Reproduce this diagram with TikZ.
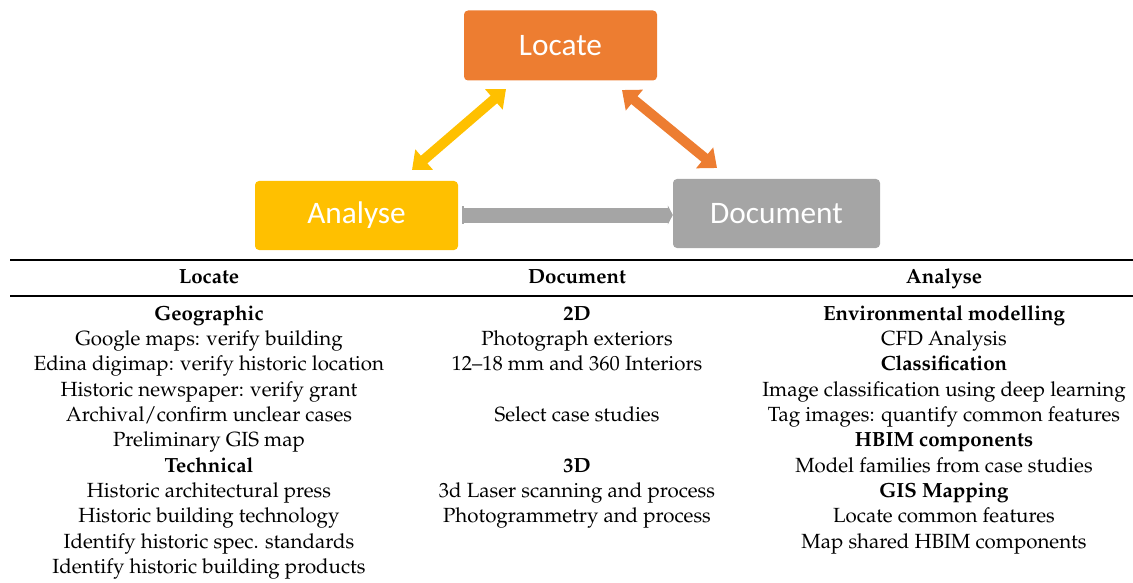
\documentclass[tikz,border=0pt]{standalone}
\usepackage[T1]{fontenc}
\usepackage{fontspec}
\newfontfamily\carlito{Carlito}
\usetikzlibrary{arrows.meta}
\newcommand\palfont{\fontencoding{T1}\fontfamily{ppl}\selectfont}
\definecolor{cOrange}{HTML}{ED7D31}
\definecolor{cYellow}{HTML}{FFC000}
\definecolor{cGray}{HTML}{A5A5A5}
\begin{document}
\begin{tikzpicture}[x=1pt,y=-1pt,
  box/.style={rectangle, rounded corners=4pt, text=white, inner sep=0pt,
    font=\carlito\fontsize{31.3}{31}\selectfont},
  cell/.style={anchor=base, inner sep=0pt, font=\palfont\fontsize{20.5}{25}\selectfont},
  dblarrow/.style={line width=10pt, {Triangle[width=26pt,length=16pt]}-{Triangle[width=26pt,length=16pt]}},
  grayarrow/.style={draw=cGray, line width=15pt, {Bar[width=18pt,line width=1.5pt]}-{Triangle[width=19pt,length=5pt]}}
]
\useasboundingbox (0,0) rectangle (1133,583);

% boxes
\node[box, fill=cOrange, minimum width=193pt, minimum height=70pt] (L) at (560.5,45.5) {Locate};
\node[box, fill=cYellow, minimum width=203pt, minimum height=69pt] (A) at (356.5,215.5) {Analyse};
\node[box, fill=cGray, minimum width=207pt, minimum height=69pt] (D) at (776.5,213.5) {Document};

% arrows
\coordinate (ya) at (412,170);
\coordinate (yb) at (506,89);
\coordinate (oa) at (622,90);
\coordinate (ob) at (717,168);
\draw[dblarrow, draw=cYellow, fill=cYellow] (ya) -- (yb);
\draw[dblarrow, draw=cOrange, fill=cOrange] (oa) -- (ob);
\coordinate (ga) at (462,215);
\coordinate (gb) at (D.west|-0,215);
\draw[grayarrow] (ga) -- (gb);

% table rules
\coordinate (tr1) at (10,260);
\coordinate (tr2) at (1133,260);
\coordinate (mr1) at (10,296);
\coordinate (mr2) at (1133,296);
\draw[line width=1.8pt] (tr1) -- (tr2);
\draw[line width=1.1pt] (mr1) -- (mr2);

% headers
\node[cell] (hL) at (209,283) {\bfseries Locate};
\node[cell] (hD) at (577,283) {\bfseries Document};
\node[cell] (hA) at (944,283) {\bfseries Analyse};

% left column
\foreach \t [count=\i, evaluate=\i as \yy using 320+25.35*(\i-1)] in {
  \bfseries Geographic,
  Google maps: verify building,
  Edina digimap: verify historic location,
  Historic newspaper: verify grant,
  Archival/confirm unclear cases,
  Preliminary GIS map,
  \bfseries Technical,
  Historic architectural press,
  Historic building technology,
  Identify historic spec. standards,
  Identify historic building products}
  \node[cell] (l\i) at (209,\yy) {\t};

% middle column
\foreach \i/\t [evaluate=\i as \yy using 320+25.35*(\i-1)] in {
  1/\bfseries 2D,
  2/Photograph exteriors,
  3/12--18 mm and 360 Interiors,
  5/Select case studies,
  7/\bfseries 3D,
  8/3d Laser scanning and process,
  9/Photogrammetry and process}
  \node[cell] (m\i) at (577,\yy) {\t};

% right column
\foreach \t [count=\i, evaluate=\i as \yy using 320+25.35*(\i-1)] in {
  \bfseries Environmental modelling,
  CFD Analysis,
  \bfseries Classification,
  Image classification using deep learning,
  Tag images: quantify common features,
  \bfseries HBIM components,
  Model families from case studies,
  \bfseries GIS Mapping,
  Locate common features,
  Map shared HBIM components}
  \node[cell] (r\i) at (944,\yy) {\t};
\end{tikzpicture}
\end{document}
